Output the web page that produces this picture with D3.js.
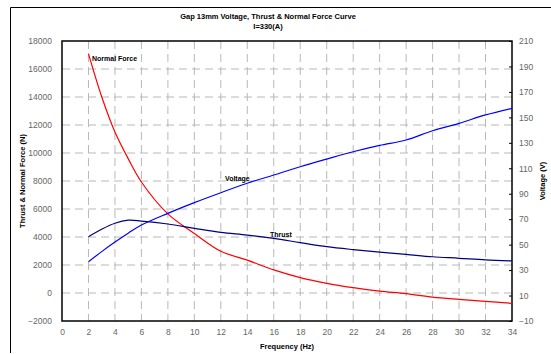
<!DOCTYPE html>
<html><head><meta charset="utf-8">
<script src="https://cdn.jsdelivr.net/npm/d3@7"></script>
<style>body{margin:0;background:#fff}svg{display:block}text{font-family:"Liberation Sans",Arial,sans-serif}</style>
</head><body>
<svg id="c" width="551" height="354"></svg>
<script>
const frequency = [2,3,4,5,6,8,10,12,14,16,18,20,22,24,26,28,30,32,34];
const normalForce = [17100,14020,11500,9600,7930,5650,4250,2980,2350,1650,1100,690,380,130,-50,-300,-460,-600,-740];
const thrust = [4020,4550,4980,5200,5140,4930,4620,4330,4140,3900,3600,3310,3100,2920,2760,2590,2480,2360,2290];
const voltage = [36.6,44.5,52,59,65.4,74.6,83,90.8,98.2,104.7,111.2,117.2,123,128,132.2,139.5,145.3,151.9,157.1];
const xTicks = d3.range(0,35,2);
const leftTicks = d3.range(-2000,18001,2000);
const rightTicks = d3.range(-10,211,20);
const titleText = ["Gap 13mm Voltage, Thrust & Normal Force Curve","I=330(A)"];

const svg = d3.select("#c");
const L=62,R=512,T=41,B=321;
const x = d3.scaleLinear().domain([0,34]).range([L,R]);
const yL = d3.scaleLinear().domain([-2000,18000]).range([B,T]);
const yR = d3.scaleLinear().domain([-10,210]).range([B,T]);

// outer frame (left & top visible)
svg.append("path").attr("d","M10.5,353 V7.5 H560").attr("fill","none").attr("stroke","#000").attr("stroke-width",1);

// title
svg.append("text").attr("x",268).attr("y",19).attr("text-anchor","middle").attr("font-size",7.5).attr("font-weight","bold").text(titleText[0]);
svg.append("text").attr("x",268).attr("y",29).attr("text-anchor","middle").attr("font-size",7.5).attr("font-weight","bold").text(titleText[1]);

// gridlines
const g = svg.append("g");
g.selectAll(".vg").data(xTicks.filter(d=>d>0&&d<34)).join("line")
  .attr("x1",d=>x(d)).attr("x2",d=>x(d)).attr("y1",T).attr("y2",B)
  .attr("stroke","#b8b8b8").attr("stroke-width",1).attr("stroke-dasharray","8,5");
g.selectAll(".hg").data(leftTicks.filter(d=>d>-2000&&d<18000)).join("line")
  .attr("x1",L).attr("x2",R).attr("y1",d=>yL(d)).attr("y2",d=>yL(d))
  .attr("stroke","#b8b8b8").attr("stroke-width",1).attr("stroke-dasharray","8,5");

// axes
const fmt = d3.format("d");
const axL = d3.axisLeft(yL).tickValues(leftTicks).tickFormat(fmt).tickSize(0).tickPadding(10);
const axR = d3.axisRight(yR).tickValues(rightTicks).tickFormat(fmt).tickSizeInner(-3).tickSizeOuter(0).tickPadding(7);
const axB = d3.axisBottom(x).tickValues(xTicks).tickFormat(fmt).tickSize(0).tickPadding(8);
function style(sel){sel.select(".domain").remove();sel.selectAll("text").attr("font-size",8.5).attr("fill","#666").attr("font-family","Liberation Sans, Arial, sans-serif");}
svg.append("g").attr("transform",`translate(${L},0)`).call(axL).call(style);
const gr = svg.append("g").attr("transform",`translate(${R},0)`).call(axR).call(style);
gr.selectAll(".tick line").attr("stroke","#000");
svg.append("g").attr("transform",`translate(0,${B})`).call(axB).call(style);

// plot frame
svg.append("rect").attr("x",L).attr("y",T).attr("width",R-L).attr("height",B-T).attr("fill","none").attr("stroke","#000").attr("stroke-width",1.5);

// lines
const lineL = d3.line().x((d,i)=>x(frequency[i])).y(d=>yL(d)).curve(d3.curveCatmullRom.alpha(0.5));
const lineR = d3.line().x((d,i)=>x(frequency[i])).y(d=>yR(d)).curve(d3.curveCatmullRom.alpha(0.5));
svg.append("path").datum(normalForce).attr("d",lineL).attr("fill","none").attr("stroke","#ff0000").attr("stroke-width",1.2);
svg.append("path").datum(thrust).attr("d",lineL).attr("fill","none").attr("stroke","#000080").attr("stroke-width",1.2);
svg.append("path").datum(voltage).attr("d",lineR).attr("fill","none").attr("stroke","#0000ff").attr("stroke-width",1.2);

// series labels
const lab=(t,xx,yy)=>svg.append("text").attr("x",xx).attr("y",yy).attr("font-size",7).attr("font-weight","bold").text(t);
lab("Normal Force",92,60.5);
lab("Voltage",225,180.5);
lab("Thrust",270,236.5);

// axis titles
svg.append("text").attr("x",287).attr("y",349).attr("text-anchor","middle").attr("font-size",7.5).attr("font-weight","bold").text("Frequency (Hz)");
svg.append("text").attr("transform","translate(24.5,181) rotate(-90)").attr("text-anchor","middle").attr("font-size",7.5).attr("font-weight","bold").text("Thrust & Normal Force (N)");
svg.append("text").attr("transform","translate(545,181) rotate(-90)").attr("text-anchor","middle").attr("font-size",7.5).attr("font-weight","bold").text("Voltage (V)");
</script>
</body></html>
